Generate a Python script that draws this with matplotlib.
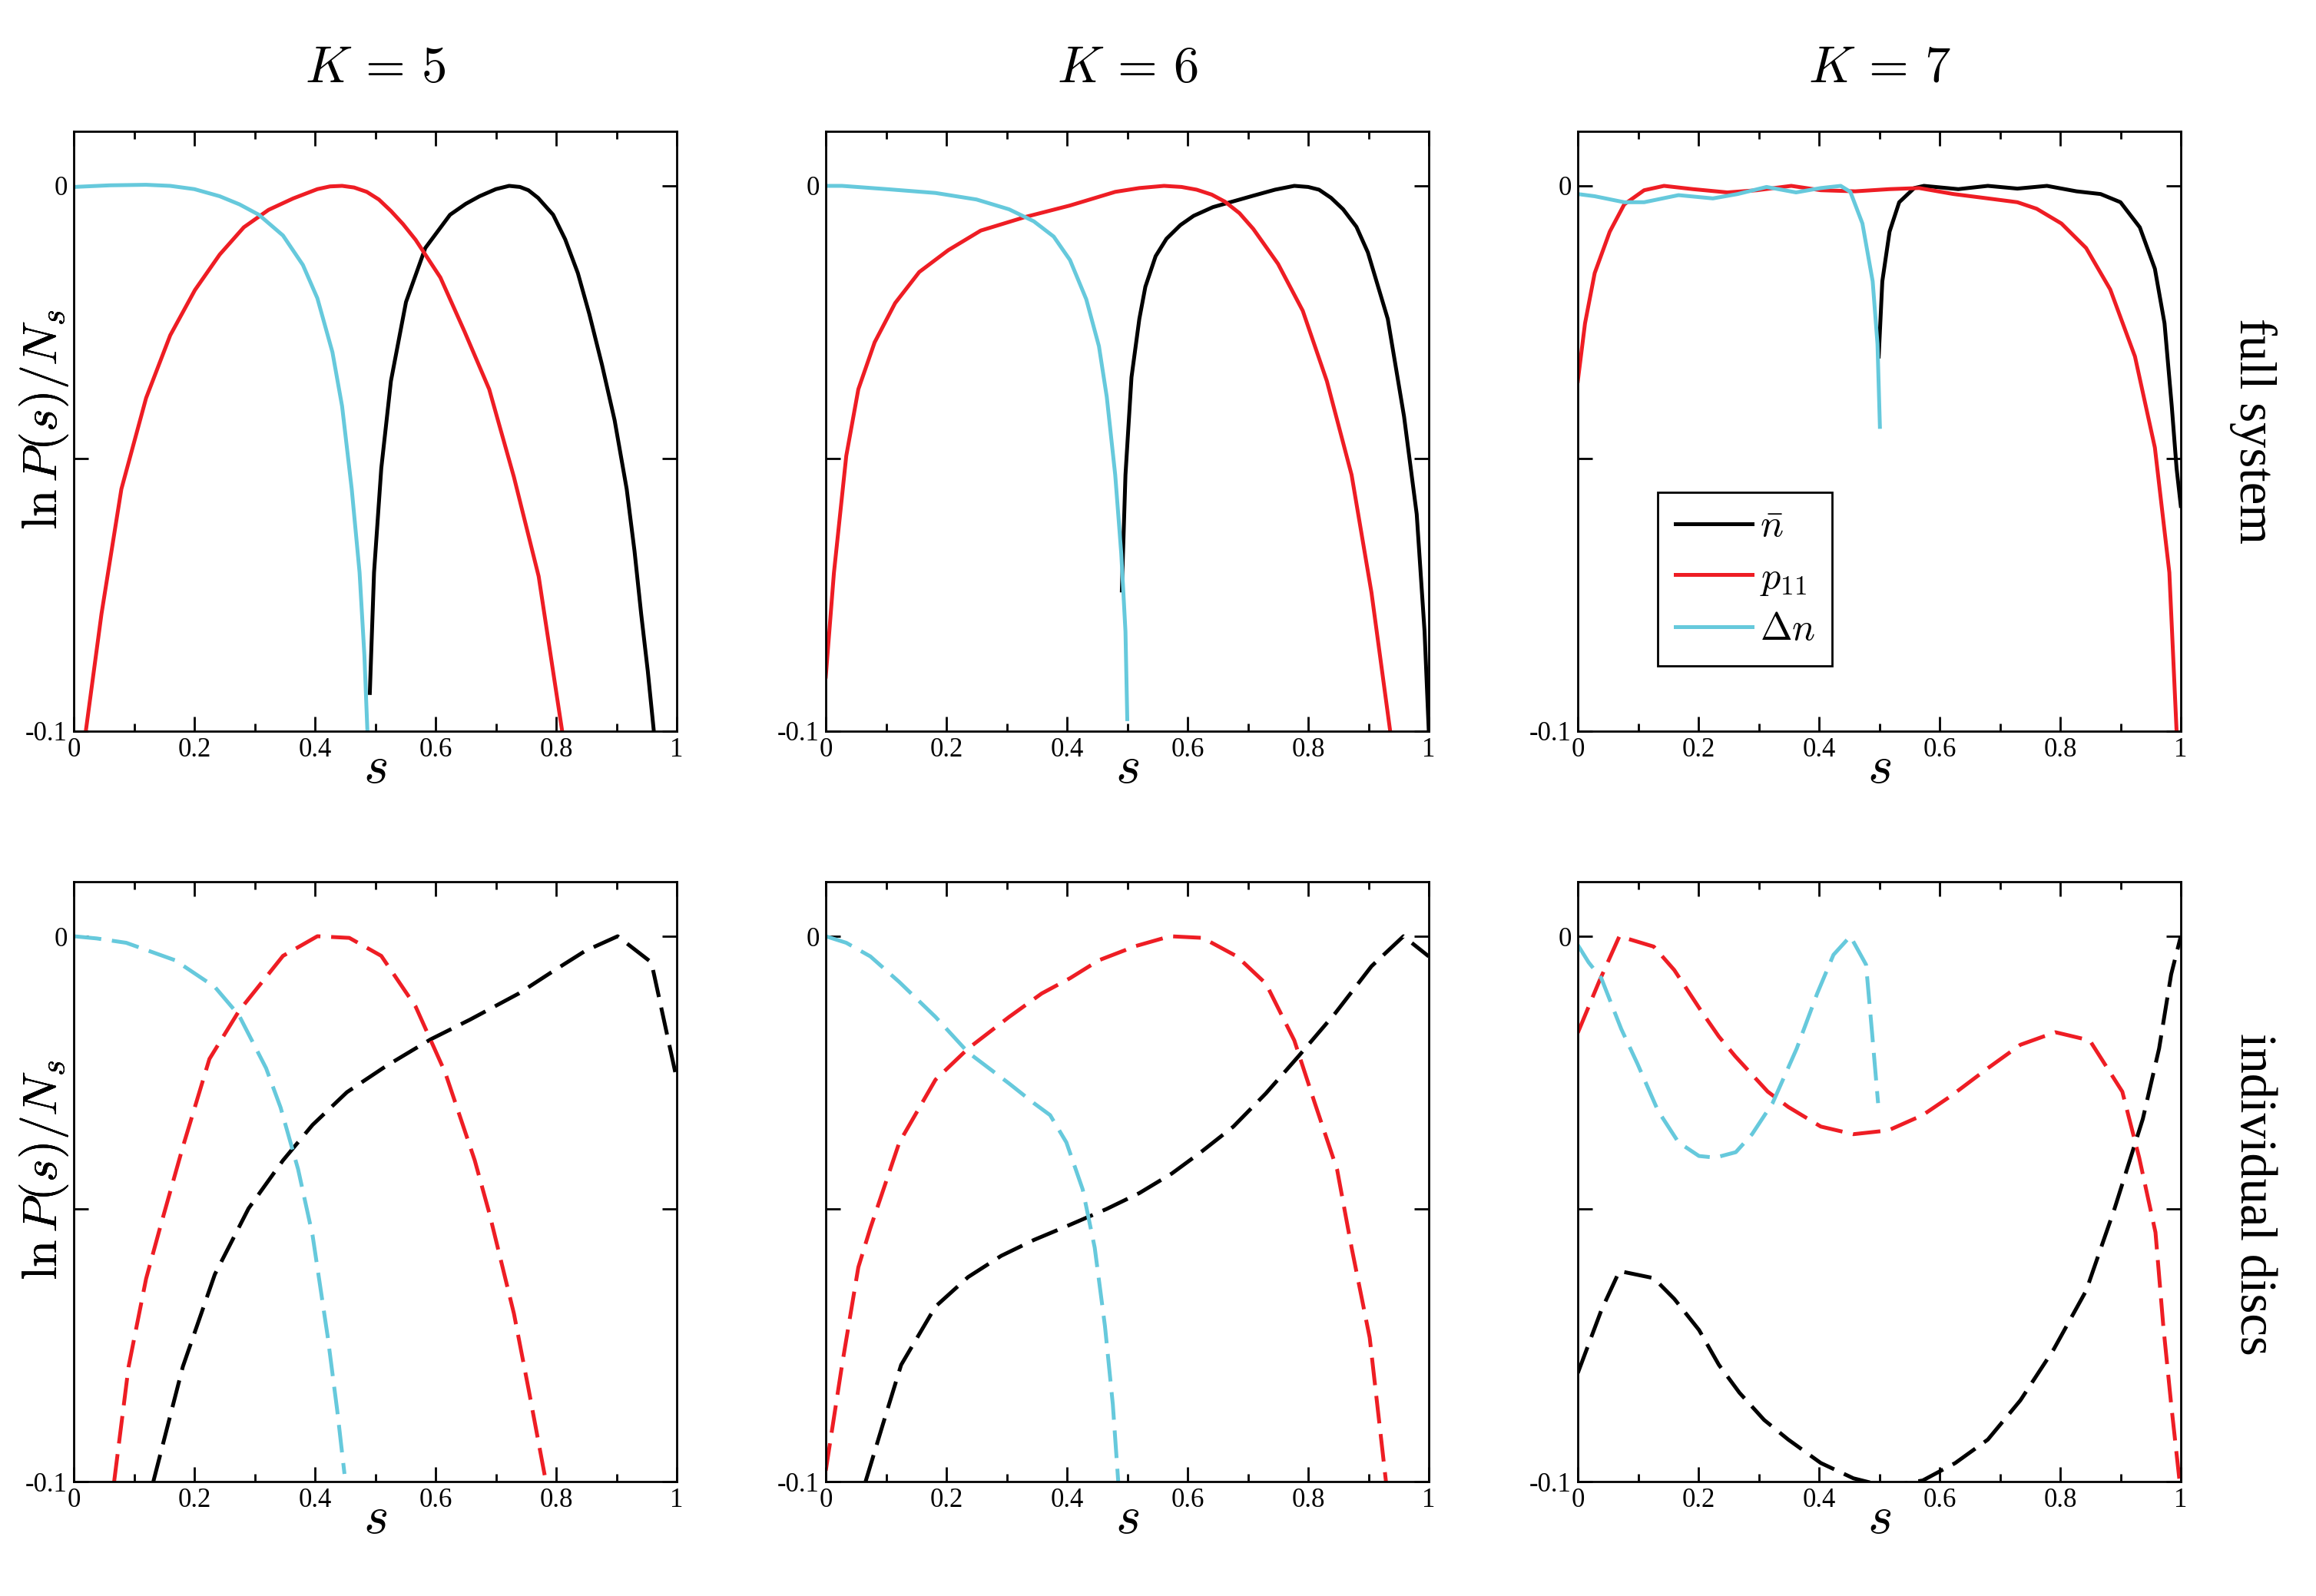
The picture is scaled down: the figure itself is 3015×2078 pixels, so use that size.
# ln P(s)/N_s for K = 5, 6, 7 -- full system (top) and individual discs (bottom)

import numpy as np
import matplotlib
matplotlib.use('Agg')
import matplotlib.pyplot as plt

plt.rcParams['font.family'] = 'serif'
plt.rcParams['font.serif'] = ['Liberation Serif', 'DejaVu Serif']
plt.rcParams['mathtext.fontset'] = 'cm'

RED = '#EE1D24'
CYAN = '#66C9DC'
BLACK = '#000000'

titles = [r'$K\,=\,5$', r'$K\,=\,6$', r'$K\,=\,7$']
row_labels = ['full system', 'individual discs']
legend_labels = [r'$\bar{n}$', r'$p_{11}$', r'$\Delta n$']
xtick_labels = ['0', '0.2', '0.4', '0.6', '0.8', '1']
ytick_labels = ['-0.1', '', '0']

# ---------------- full system, K = 5
nbar_s_5 = [0.491, 0.498, 0.510, 0.526, 0.551, 0.583, 0.624, 0.65, 0.673, 0.70, 0.722, 0.74, 0.754, 0.77, 0.795, 0.815, 0.836, 0.855, 0.876, 0.897, 0.917, 0.93, 0.941, 0.952, 0.962]
nbar_y_5 = [-0.093, -0.0709, -0.0518, -0.0358, -0.0213, -0.0114, -0.0053, -0.0033, -0.0019, -0.0006, 0.0, -0.0002, -0.0008, -0.0022, -0.0053, -0.0098, -0.016, -0.0235, -0.0328, -0.043, -0.0556, -0.067, -0.0785, -0.089, -0.1]
p11_s_5 = [0.020, 0.046, 0.079, 0.120, 0.160, 0.201, 0.242, 0.282, 0.323, 0.364, 0.404, 0.425, 0.445, 0.465, 0.486, 0.506, 0.526, 0.546, 0.567, 0.608, 0.648, 0.689, 0.730, 0.771, 0.810]
p11_y_5 = [-0.1, -0.0785, -0.0556, -0.0389, -0.0274, -0.0191, -0.0126, -0.0076, -0.0044, -0.0023, -0.0006, -0.0001, 0.0, -0.0003, -0.0011, -0.0025, -0.0046, -0.007, -0.0099, -0.0168, -0.0267, -0.0373, -0.0534, -0.0716, -0.1]
dn_s_5 = [0.0, 0.06, 0.12, 0.16, 0.2, 0.242, 0.275, 0.307, 0.347, 0.380, 0.404, 0.429, 0.445, 0.461, 0.474, 0.482, 0.487]
dn_y_5 = [-0.0002, 0.0001, 0.0002, 0.0, -0.0006, -0.0019, -0.0034, -0.0053, -0.0091, -0.0145, -0.0206, -0.0305, -0.0404, -0.0556, -0.0709, -0.0861, -0.1]

# ---------------- full system, K = 6
nbar_s_6 = [0.491, 0.497, 0.507, 0.520, 0.53, 0.547, 0.565, 0.588, 0.61, 0.642, 0.709, 0.745, 0.777, 0.80, 0.818, 0.838, 0.858, 0.88, 0.899, 0.932, 0.959, 0.980, 0.993, 1.0]
nbar_y_6 = [-0.0742, -0.053, -0.0351, -0.0244, -0.0185, -0.0129, -0.0097, -0.0072, -0.0055, -0.0039, -0.0018, -0.0007, 0.0, -0.0002, -0.0007, -0.0022, -0.0043, -0.0075, -0.0122, -0.0244, -0.0423, -0.0602, -0.0817, -0.1]
p11_s_6 = [0.0, 0.0135, 0.034, 0.054, 0.081, 0.115, 0.155, 0.203, 0.257, 0.331, 0.405, 0.480, 0.52, 0.561, 0.59, 0.615, 0.64, 0.662, 0.686, 0.709, 0.75, 0.791, 0.831, 0.872, 0.905, 0.936]
p11_y_6 = [-0.09, -0.071, -0.0495, -0.0373, -0.0287, -0.0215, -0.0158, -0.0118, -0.0082, -0.0057, -0.0036, -0.0011, -0.0004, 0.0, -0.0002, -0.0007, -0.0016, -0.0029, -0.005, -0.0079, -0.0143, -0.0229, -0.0358, -0.053, -0.0746, -0.1]
dn_s_6 = [0.0, 0.027, 0.101, 0.182, 0.25, 0.304, 0.345, 0.378, 0.405, 0.432, 0.453, 0.466, 0.480, 0.490, 0.497, 0.5]
dn_y_6 = [0.0, 0.0, -0.0006, -0.0013, -0.0025, -0.0043, -0.0065, -0.0093, -0.0136, -0.0208, -0.0294, -0.0387, -0.053, -0.0674, -0.0817, -0.0978]

# ---------------- full system, K = 7
nbar_s_7 = [0.499, 0.505, 0.517, 0.533, 0.558, 0.574, 0.631, 0.680, 0.729, 0.778, 0.827, 0.867, 0.9, 0.932, 0.957, 0.973, 0.985, 0.993, 1.0]
nbar_y_7 = [-0.0313, -0.0175, -0.0084, -0.003, -0.0004, 0.0, -0.0006, 0.0, -0.0005, 0.0, -0.001, -0.0015, -0.003, -0.0076, -0.0152, -0.0252, -0.0404, -0.0518, -0.0587]
p11_s_7 = [0.0, 0.012, 0.028, 0.053, 0.077, 0.11, 0.143, 0.191, 0.248, 0.297, 0.354, 0.403, 0.46, 0.517, 0.566, 0.623, 0.680, 0.729, 0.761, 0.802, 0.843, 0.883, 0.924, 0.957, 0.981, 0.993]
p11_y_7 = [-0.0358, -0.0252, -0.016, -0.0084, -0.0034, -0.0008, 0.0, -0.0006, -0.0012, -0.0008, 0.0, -0.0008, -0.001, -0.0006, -0.0004, -0.0015, -0.0023, -0.003, -0.0042, -0.0069, -0.0114, -0.019, -0.0313, -0.048, -0.0709, -0.1]
dn_s_7 = [0.0, 0.028, 0.077, 0.11, 0.167, 0.224, 0.265, 0.313, 0.362, 0.403, 0.436, 0.452, 0.472, 0.489, 0.497, 0.501]
dn_y_7 = [-0.0015, -0.0019, -0.003, -0.003, -0.0017, -0.0023, -0.0015, -0.0002, -0.0012, -0.0004, 0.0, -0.0011, -0.0069, -0.0175, -0.029, -0.0442]

# ---------------- individual discs, K = 5
nbar_d_s_5 = [0.132, 0.181, 0.234, 0.290, 0.347, 0.396, 0.453, 0.518, 0.592, 0.657, 0.738, 0.795, 0.848, 0.902, 0.958, 1.0]
nbar_d_y_5 = [-0.1, -0.0789, -0.062, -0.0499, -0.0411, -0.0346, -0.0286, -0.0238, -0.0189, -0.0153, -0.0105, -0.0064, -0.0027, 0.0, -0.0048, -0.0262]
p11_d_s_5 = [0.067, 0.091, 0.120, 0.144, 0.181, 0.225, 0.274, 0.347, 0.404, 0.457, 0.510, 0.567, 0.616, 0.665, 0.689, 0.730, 0.754, 0.783]
p11_d_y_5 = [-0.1, -0.0789, -0.0628, -0.0531, -0.0386, -0.0225, -0.0137, -0.0036, 0.0, -0.0003, -0.0036, -0.0129, -0.025, -0.0411, -0.0507, -0.0692, -0.0829, -0.1]
dn_d_s_5 = [0.0, 0.038, 0.087, 0.168, 0.234, 0.274, 0.319, 0.343, 0.372, 0.396, 0.421, 0.437, 0.449]
dn_d_y_5 = [0.0, -0.0004, -0.0012, -0.0044, -0.0093, -0.0145, -0.0242, -0.0314, -0.0427, -0.0548, -0.0733, -0.087, -0.0986]

# ---------------- individual discs, K = 6
nbar_d_s_6 = [0.066, 0.095, 0.125, 0.182, 0.236, 0.291, 0.345, 0.399, 0.466, 0.520, 0.574, 0.622, 0.676, 0.730, 0.784, 0.845, 0.905, 0.958, 1.0]
nbar_d_y_6 = [-0.1, -0.0894, -0.0786, -0.0679, -0.0625, -0.0586, -0.0557, -0.0532, -0.05, -0.0471, -0.0435, -0.0396, -0.0349, -0.0288, -0.022, -0.0141, -0.0055, 0.0, -0.0037]
p11_d_s_6 = [0.0, 0.027, 0.054, 0.074, 0.122, 0.182, 0.236, 0.304, 0.358, 0.405, 0.453, 0.514, 0.571, 0.625, 0.682, 0.730, 0.777, 0.811, 0.848, 0.872, 0.902, 0.929]
p11_d_y_6 = [-0.098, -0.0786, -0.0607, -0.0535, -0.0378, -0.0263, -0.0206, -0.0148, -0.0105, -0.0077, -0.0044, -0.0018, 0.0, -0.0003, -0.0037, -0.0087, -0.0191, -0.0306, -0.0428, -0.0571, -0.0736, -0.1]
dn_d_s_6 = [0.0, 0.034, 0.074, 0.122, 0.182, 0.236, 0.304, 0.345, 0.372, 0.399, 0.426, 0.446, 0.463, 0.476, 0.485]
dn_d_y_6 = [0.0, -0.0012, -0.0037, -0.0084, -0.0148, -0.0213, -0.027, -0.0306, -0.0328, -0.0378, -0.0464, -0.0571, -0.0715, -0.0858, -0.1]

# ---------------- individual discs, K = 7
nbar_d_s_7 = [0.0, 0.039, 0.069, 0.126, 0.160, 0.201, 0.234, 0.268, 0.309, 0.349, 0.403, 0.457, 0.511, 0.572, 0.626, 0.680, 0.734, 0.789, 0.843, 0.890, 0.937, 0.964, 0.984, 1.0]
nbar_d_y_7 = [-0.0801, -0.0686, -0.0614, -0.0627, -0.0665, -0.0722, -0.0786, -0.0837, -0.0887, -0.0923, -0.0966, -0.0994, -0.1009, -0.0998, -0.0966, -0.0923, -0.0851, -0.0758, -0.065, -0.05, -0.0335, -0.0206, -0.007, 0.0]
p11_d_s_7 = [0.0, 0.035, 0.069, 0.126, 0.16, 0.207, 0.234, 0.261, 0.315, 0.349, 0.403, 0.457, 0.515, 0.572, 0.620, 0.680, 0.734, 0.792, 0.849, 0.903, 0.931, 0.958, 0.971, 0.984, 0.998]
p11_d_y_7 = [-0.0177, -0.0084, 0.0, -0.0019, -0.0062, -0.0141, -0.0184, -0.022, -0.0285, -0.0313, -0.0349, -0.0363, -0.0356, -0.0328, -0.0292, -0.0242, -0.0199, -0.0176, -0.0191, -0.0285, -0.0406, -0.0543, -0.0715, -0.0858, -0.1]
dn_d_s_7 = [0.0, 0.018, 0.039, 0.072, 0.099, 0.133, 0.167, 0.201, 0.228, 0.262, 0.289, 0.323, 0.363, 0.397, 0.424, 0.452, 0.478, 0.488, 0.498]
dn_d_y_7 = [-0.0016, -0.0048, -0.0077, -0.017, -0.0234, -0.032, -0.0378, -0.0403, -0.0406, -0.0396, -0.0363, -0.0306, -0.0206, -0.0105, -0.0034, 0.0, -0.0052, -0.0177, -0.0306]

full = [
    [(nbar_s_5, nbar_y_5), (p11_s_5, p11_y_5), (dn_s_5, dn_y_5)],
    [(nbar_s_6, nbar_y_6), (p11_s_6, p11_y_6), (dn_s_6, dn_y_6)],
    [(nbar_s_7, nbar_y_7), (p11_s_7, p11_y_7), (dn_s_7, dn_y_7)],
]
discs = [
    [(nbar_d_s_5, nbar_d_y_5), (p11_d_s_5, p11_d_y_5), (dn_d_s_5, dn_d_y_5)],
    [(nbar_d_s_6, nbar_d_y_6), (p11_d_s_6, p11_d_y_6), (dn_d_s_6, dn_d_y_6)],
    [(nbar_d_s_7, nbar_d_y_7), (p11_d_s_7, p11_d_y_7), (dn_d_s_7, dn_d_y_7)],
]
colors = [BLACK, RED, CYAN]

W, H = 3015, 2078
fig = plt.figure(figsize=(W / 200, H / 200), dpi=200)

lefts = [96, 1075, 2054]
tops = [171, 1148]
aw, ah = 785, 781


def style_axes(ax):
    ax.set_xlim(0, 1)
    ax.set_ylim(-0.1, 0.01)
    ax.set_xticks([0, 0.2, 0.4, 0.6, 0.8, 1.0])
    ax.set_xticklabels(xtick_labels)
    ax.set_xticks(np.arange(0.1, 1.0, 0.2), minor=True)
    ax.set_yticks([-0.1, -0.05, 0.0])
    ax.set_yticklabels(ytick_labels)
    ax.tick_params(which='both', direction='in', top=True, right=True, labelsize=12.5, width=1, pad=3)
    ax.tick_params(which='major', length=7)
    ax.tick_params(which='minor', length=3.5)
    for sp in ax.spines.values():
        sp.set_linewidth(1.0)


for r in range(2):
    for c in range(3):
        ax = fig.add_axes([lefts[c] / W, 1 - (tops[r] + ah) / H, aw / W, ah / H])
        style_axes(ax)
        data = full[c] if r == 0 else discs[c]
        handles = []
        for (xs, ys), col in zip(data, colors):
            if r == 0:
                ln, = ax.plot(xs, ys, color=col, lw=1.8, solid_joinstyle='round')
            else:
                ln, = ax.plot(xs, ys, color=col, lw=1.8, dashes=(7.2, 2.8))
            handles.append(ln)
        if r == 0 and c == 2:
            leg = ax.legend(handles, legend_labels, loc='lower left', bbox_to_anchor=(0.1325, 0.109),
                            borderaxespad=0, fontsize=18, handlelength=2.0, handletextpad=0.2,
                            labelspacing=0.4, borderpad=0.45, fancybox=False, framealpha=1,
                            edgecolor='black')
            leg.get_frame().set_linewidth(1.0)

        cx = (lefts[c] + aw / 2) / W
        # x label "s"
        fig.text(cx, 1 - (tops[r] + ah + 50) / H, '$s$', ha='center', va='center', fontsize=25)
        # y label
        fig.text(58 / W, 1 - (tops[r] + 375) / H, r'$\ln P(s)/N_s$', rotation=90,
                 ha='center', va='center', fontsize=23)

for c in range(3):
    fig.text((lefts[c] + aw / 2) / W, 1 - 90 / H, titles[c], ha='center', va='center', fontsize=24)

fig.text(2933 / W, 1 - 561 / H, row_labels[0], rotation=270, ha='center', va='center', fontsize=24)
fig.text(2933 / W, 1 - 1555 / H, row_labels[1], rotation=270, ha='center', va='center', fontsize=24)

fig.savefig('out.png', dpi=200)
